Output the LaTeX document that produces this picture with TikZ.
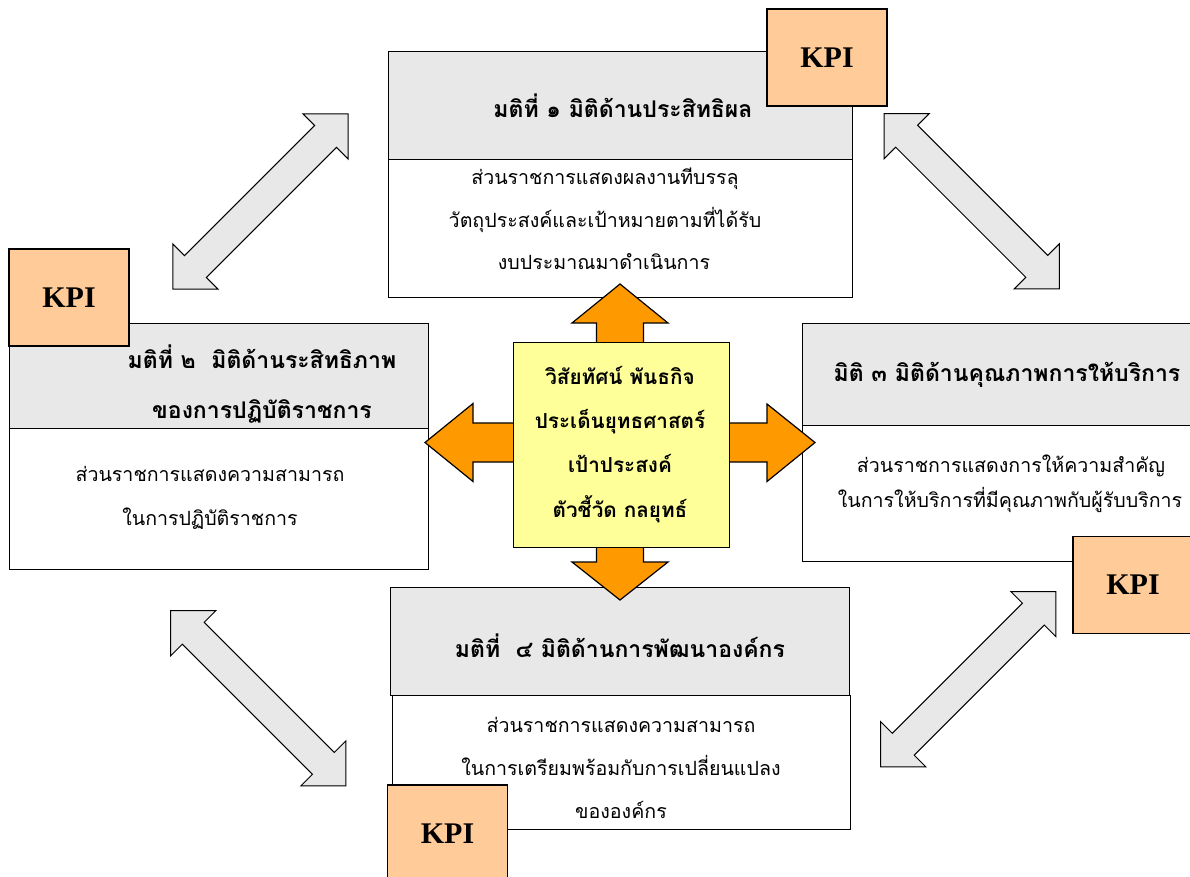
\documentclass[tikz,border=0pt]{standalone}
\usepackage{fontspec}
\setmainfont{Liberation Serif}
\newfontfamily\thai[Script=Thai]{Loma}
\definecolor{hdrgray}{RGB}{232,232,232}
\definecolor{kpifill}{RGB}{255,204,153}
\definecolor{orng}{RGB}{255,153,0}
\definecolor{ylw}{RGB}{255,255,153}
\tikzset{
  boxline/.style={draw=black, line width=1.3pt},
  hdrbox/.style={boxline, fill=hdrgray, anchor=north west, inner sep=0pt},
  bodybox/.style={boxline, fill=white, anchor=north west, inner sep=0pt},
  kpibox/.style={boxline, fill=kpifill, inner sep=0pt, minimum width=120pt, minimum height=97pt,
    font=\bfseries\fontsize{30}{30}\selectfont},
  bodytxt/.style={anchor=base, inner sep=0pt, font=\thai\fontsize{19.6}{19.6}\selectfont},
  hdrtxt/.style={anchor=base, inner sep=0pt, font=\thai\bfseries\fontsize{23}{23}\selectfont},
  ctrtxt/.style={anchor=base, inner sep=0pt, font=\thai\bfseries\fontsize{20.7}{20.7}\selectfont},
  diagarrow/.style={draw=black, line width=1pt, fill=hdrgray, line join=miter},
  dblarr/.pic={\path[diagarrow] (-124,0) -- (-92,32) -- (-92,15.5) -- (92,15.5) -- (92,32) -- (124,0)
      -- (92,-32) -- (92,-15.5) -- (-92,-15.5) -- (-92,-32) -- cycle;}
}
\begin{document}
\begin{tikzpicture}[x=1pt,y=-1pt]
\useasboundingbox (0,0) rectangle (1190,876);
\clip (0,0) rectangle (1190,876);
\fill[white] (0,0) rectangle (1190,876);

% diagonal double arrows
\pic[rotate=45]  at (260.5,201.5) {dblarr};
\pic[rotate=-45] at (971.7,201.3) {dblarr};
\pic[rotate=-45] at (258.3,698.3) {dblarr};
\pic[rotate=45]  at (968.3,679.2) {dblarr};

% box 1 (top)
\node[hdrbox, minimum width=464pt, minimum height=108pt] (h1) at (388,51) {};
\node[bodybox, minimum width=464pt, minimum height=138pt] (b1) at (388,159) {};
% box 2 (left)
\node[hdrbox, minimum width=419pt, minimum height=105pt] (h2) at (9,323) {};
\node[bodybox, minimum width=419pt, minimum height=141pt] (b2) at (9,428) {};
% box 3 (right)
\node[hdrbox, minimum width=400pt, minimum height=102pt] (h3) at (802,323) {};
\node[bodybox, minimum width=400pt, minimum height=136pt] (b3) at (802,425) {};
% box 4 (bottom)
\node[hdrbox, minimum width=459pt, minimum height=108pt] (h4) at (390,587) {};
\node[bodybox, minimum width=458pt, minimum height=134pt] (b4) at (392,695) {};

% KPI boxes
\node[kpibox] (k1) at (827,57.5) {KPI};
\node[kpibox] (k2) at (69,297.5) {KPI};
\node[kpibox] (k3) at (1133,585) {KPI};
\node[kpibox] (k4) at (447.5,833.5) {KPI};

% orange four-way arrow
\path[draw=black, line width=1.2pt, fill=orng, line join=miter]
  (620,284) -- (668,323) -- (643.5,323) -- (643.5,423) -- (767,423) -- (767,404) -- (815,442.5)
  -- (767,481.5) -- (767,462) -- (643.5,462) -- (643.5,562) -- (668,562) -- (620,600)
  -- (572,562) -- (596.5,562) -- (596.5,462) -- (473,462) -- (473,481.5) -- (425,442.5)
  -- (473,403.5) -- (473,423) -- (596.5,423) -- (596.5,323) -- (572,323) -- cycle;

% centre box
\node[boxline, fill=ylw, anchor=north west, minimum width=216pt, minimum height=205pt, inner sep=0pt] (c) at (513,342) {};

% texts box 1
\node[hdrtxt] (t1h) at (623,117) {มติที่ ๑ มิติด้านประสิทธิผล};
\node[bodytxt] (t1a) at (605,184) {ส่วนราชการแสดงผลงานทีบรรลุ};
\node[bodytxt] (t1b) at (605,227) {วัตถุประสงค์และเป้าหมายตามที่ได้รับ};
\node[bodytxt] (t1c) at (604,269) {งบประมาณมาดำเนินการ};
% texts box 2
\node[hdrtxt] (t2h) at (262,368) {มติที่ ๒~~มิติด้านระสิทธิภาพ};
\node[hdrtxt] (t2i) at (262,418) {ของการปฏิบัติราชการ};
\node[bodytxt] (t2a) at (210,481) {ส่วนราชการแสดงความสามารถ};
\node[bodytxt] (t2b) at (210,525) {ในการปฏิบัติราชการ};
% texts box 3
\node[hdrtxt] (t3h) at (1007,381) {มิติ ๓ มิติด้านคุณภาพการให้บริการ};
\node[bodytxt] (t3a) at (1011,472) {ส่วนราชการแสดงการให้ความสำคัญ};
\node[bodytxt] (t3b) at (1010,507) {ในการให้บริการที่มีคุณภาพกับผู้รับบริการ};
% texts box 4
\node[hdrtxt] (t4h) at (620,657) {มติที่~~๔ มิติด้านการพัฒนาองค์กร};
\node[bodytxt] (t4a) at (621,732) {ส่วนราชการแสดงความสามารถ};
\node[bodytxt] (t4b) at (621,775) {ในการเตรียมพร้อมกับการเปลี่ยนแปลง};
\node[bodytxt] (t4c) at (621,818) {ขององค์กร};
% centre texts
\node[ctrtxt] (ca) at (620,384) {วิสัยทัศน์ พันธกิจ};
\node[ctrtxt] (cb) at (620,428) {ประเด็นยุทธศาสตร์};
\node[ctrtxt] (cc) at (620,472) {เป้าประสงค์};
\node[ctrtxt] (cd) at (620,517) {ตัวชี้วัด กลยุทธ์};
\end{tikzpicture}
\end{document}
